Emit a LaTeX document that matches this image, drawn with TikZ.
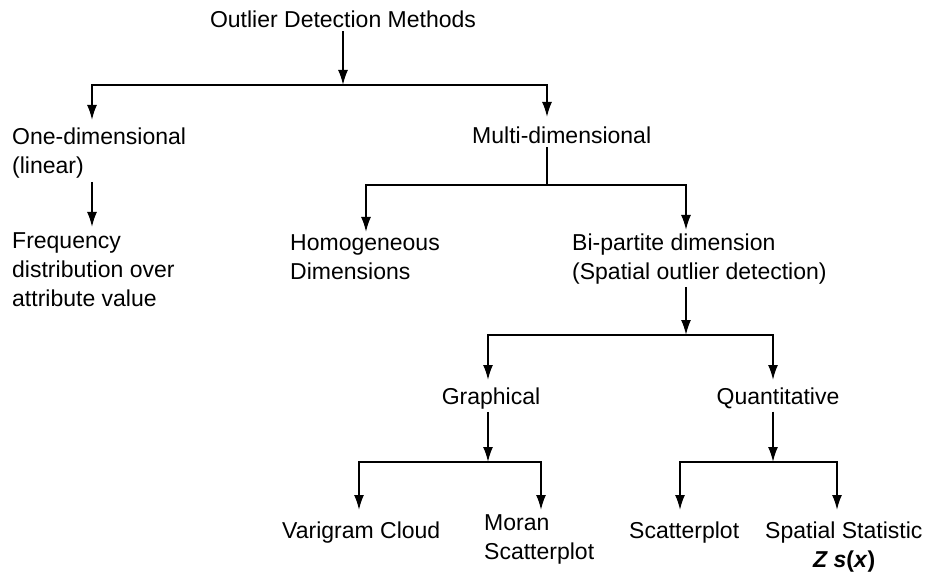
\documentclass[tikz,border=0pt]{standalone}
\usepackage{fontspec}
\setmainfont{Liberation Sans}
\usetikzlibrary{arrows.meta}

\tikzset{
  lbl/.style={inner sep=3pt, align=left, font=\fontsize{23}{29}\selectfont},
  arr/.style={line width=1.8pt, -{Latex[length=15pt,width=10pt]}},
  bar/.style={line width=1.8pt}
}

\begin{document}
\begin{tikzpicture}[x=1pt, y=-1pt]
          \useasboundingbox (0, 0) rectangle (926, 572);

          % Labels (base = last line)
          \node [lbl, anchor=base] (root) at (343, 28) {Outlier Detection Methods};
          \node [lbl, anchor=base west] (one) at (9, 174) {One-dimensional\\(linear)};
          \node [lbl, anchor=base west] (multi) at (469, 144) {Multi-dimensional};
          \node [lbl, anchor=base west] (freq) at (9, 306) {Frequency\\distribution over\\attribute value};
          \node [lbl, anchor=base west] (homo) at (287, 279) {Homogeneous\\Dimensions};
          \node [lbl, anchor=base west] (bip) at (569, 279) {Bi-partite dimension\\(Spatial outlier detection)};
          \node [lbl, anchor=base] (graph) at (491, 404) {Graphical};
          \node [lbl, anchor=base] (quant) at (778, 404) {Quantitative};
          \node [lbl, anchor=base west] (vari) at (279, 538) {Varigram Cloud};
          \node [lbl, anchor=base west] (moran) at (481, 559) {Moran\\Scatterplot};
          \node [lbl, anchor=base west] (scat) at (626, 538) {Scatterplot};
          \node [lbl, anchor=base west] (spat) at (762, 567)
            {Spatial Statistic\\\hspace*{48pt}\textbf{\textit{Z s}(\textit{x})}};

          % Junctions and arrow tips
          \coordinate (j0) at (343, 85);
          \coordinate (j1) at (547, 185);
          \coordinate (j2) at (686, 335);
          \coordinate (j3) at (488, 462);
          \coordinate (j4) at (773, 462);
          \coordinate (t-one) at (92, 120);
          \coordinate (t-multi) at (547, 117);
          \coordinate (t-freq) at (92, 227);
          \coordinate (t-homo) at (366, 232);
          \coordinate (t-bip) at (686, 230);
          \coordinate (t-graph) at (488, 380);
          \coordinate (t-quant) at (773, 380);
          \coordinate (t-vari) at (359, 510);
          \coordinate (t-moran) at (541, 510);
          \coordinate (t-scat) at (680, 510);
          \coordinate (t-spat) at (837, 510);

          % Tree
          \draw [arr] (root) -- (j0);
          \draw [arr] (j0) -| (t-one);
          \draw [arr] (j0) -| (t-multi);
          \draw [arr] (t-freq |- one.south) -- (t-freq);
          \draw [bar] (j1 |- multi.south) -- (j1);
          \draw [arr] (j1) -| (t-homo);
          \draw [arr] (j1) -| (t-bip);
          \draw [arr] (j2 |- bip.south) -- (j2);
          \draw [arr] (j2) -| (t-graph);
          \draw [arr] (j2) -| (t-quant);
          \draw [arr] (j3 |- graph.south) -- (j3);
          \draw [arr] (j3) -| (t-vari);
          \draw [arr] (j3) -| (t-moran);
          \draw [arr] (j4 |- quant.south) -- (j4);
          \draw [arr] (j4) -| (t-scat);
          \draw [arr] (j4) -| (t-spat);
        \end{tikzpicture}
\end{document}
